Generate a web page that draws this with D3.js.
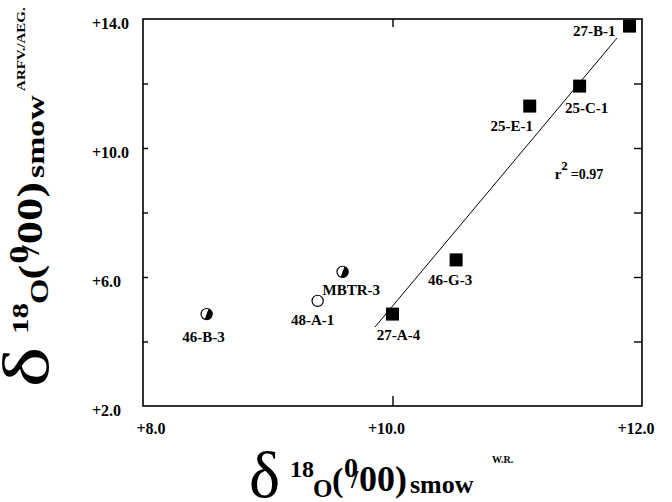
<!DOCTYPE html>
<html>
<head>
<meta charset="utf-8">
<script src="https://cdn.jsdelivr.net/npm/d3@7"></script>
</head>
<body style="margin:0">
<svg id="chart" width="672" height="502"></svg>
<script>
// Whole-rock vs. feldspar-concentrate oxygen isotope values (per mil, SMOW)
const samples   = ["27-B-1", "25-C-1", "25-E-1", "46-G-3", "27-A-4", "MBTR-3", "48-A-1", "46-B-3"];
const wholeRock = [11.90, 11.50, 11.10, 10.51, 10.00, 9.60, 9.40, 8.51];
const mineral   = [13.78, 11.92, 11.30, 6.53, 4.85, 6.16, 5.26, 4.85];
const symbols   = ["square", "square", "square", "square", "square", "half", "open", "half"];
const labelAnchor = ["end", "middle", "middle", "middle", "middle", "start", "middle", "middle"];

// regression line end points (wholeRock, mineral)
const fitX = [9.86, 11.80];
const fitY = [4.45, 13.41];
const r2 = "0.97";

const xTicks = [8, 10, 12];
const yTicks = [2, 6, 10, 14];
const yMinor = [4, 8, 12];
const tickFmt = d => "+" + d.toFixed(1);

const FONT = '"Liberation Serif"';
const serif = sel => sel.style("font-family", FONT).style("font-weight", "bold");

const svg = d3.select("#chart");
const x = d3.scaleLinear().domain([8, 12]).range([143, 642]);
const y = d3.scaleLinear().domain([2, 14]).range([406, 19]);

// plot frame
svg.append("rect")
  .attr("x", x(8)).attr("y", y(14))
  .attr("width", x(12) - x(8)).attr("height", y(2) - y(14))
  .attr("fill", "none").attr("stroke", "#000").attr("stroke-width", 1.6);

// inward ticks: left, right, top, bottom
const yAll = yMinor.concat([6, 10]);
svg.append("g").attr("transform", `translate(${x(8)},0)`)
  .call(d3.axisRight(y).tickValues(yAll).tickSize(5).tickFormat(""))
  .call(g => g.select(".domain").remove())
  .selectAll("line").attr("stroke-width", 1.4);
svg.append("g").attr("transform", `translate(${x(12)},0)`)
  .call(d3.axisLeft(y).tickValues(yAll).tickSize(8).tickFormat(""))
  .call(g => g.select(".domain").remove())
  .selectAll("line").attr("stroke-width", 1.4);
svg.append("g").attr("transform", `translate(0,${y(14)})`)
  .call(d3.axisBottom(x).tickValues([10]).tickSize(8).tickFormat(""))
  .call(g => g.select(".domain").remove())
  .selectAll("line").attr("stroke-width", 1.4);
svg.append("g").attr("transform", `translate(0,${y(2)})`)
  .call(d3.axisTop(x).tickValues([10]).tickSize(10).tickFormat(""))
  .call(g => g.select(".domain").remove())
  .selectAll("line").attr("stroke-width", 1.4);

// tick labels
svg.append("g").selectAll("text").data(yTicks).join("text")
  .attr("x", 92).attr("y", d => y(d) + 10)
  .attr("font-size", 16).attr("text-anchor", "start")
  .call(serif)
  .text(tickFmt);
svg.append("g").selectAll("text").data(xTicks).join("text")
  .attr("x", d => x(d) + (d === 8 ? 8 : -6)).attr("y", 434)
  .attr("font-size", 16).attr("text-anchor", "middle")
  .call(serif)
  .text(tickFmt);

// regression line
svg.append("line")
  .attr("x1", x(fitX[0])).attr("y1", y(fitY[0]))
  .attr("x2", x(fitX[1])).attr("y2", y(fitY[1]))
  .attr("stroke", "#000").attr("stroke-width", 1);

// markers
const pts = samples.map((s, i) => ({ s, x: wholeRock[i], y: mineral[i], sym: symbols[i], anchor: labelAnchor[i] }));
const half = d3.arc().innerRadius(0).outerRadius(5.6).startAngle(0.35).endAngle(0.35 + Math.PI);
pts.forEach(p => {
  const cx = x(p.x), cy = y(p.y);
  if (p.sym === "square") {
    svg.append("rect").attr("x", cx - 6.5).attr("y", cy - 6.5)
      .attr("width", 13).attr("height", 13).attr("fill", "#000");
  } else {
    svg.append("circle").attr("cx", cx).attr("cy", cy).attr("r", 5.6)
      .attr("fill", "#fff").attr("stroke", "#000").attr("stroke-width", 1.2);
    if (p.sym === "half") {
      svg.append("path").attr("d", half()).attr("transform", `translate(${cx},${cy})`).attr("fill", "#000");
    }
  }
});

// sample labels, placed relative to their markers
const labelPos = {
  "27-B-1": [-14, 10], "25-C-1": [7, 27], "25-E-1": [-18, 25], "46-G-3": [-6, 25],
  "27-A-4": [6, 26], "MBTR-3": [-20, 23], "48-A-1": [-5, 24], "46-B-3": [-3, 28]
};
svg.append("g").selectAll("text").data(pts).join("text")
  .attr("x", d => x(d.x) + labelPos[d.s][0])
  .attr("y", d => y(d.y) + labelPos[d.s][1])
  .attr("font-size", 15).attr("text-anchor", d => d.anchor)
  .call(serif)
  .text(d => d.s);

// r-squared annotation
const rt = svg.append("text").attr("x", x(11.30)).attr("y", y(9.04)).attr("font-size", 15).call(serif);
rt.append("tspan").text("r");
rt.append("tspan").attr("font-size", 13).attr("dy", -9).text("2");
rt.append("tspan").attr("font-size", 14).attr("dx", 3).attr("dy", 9).text("=" + r2);

// axis title: δ 18O (0/00) smow with a superscript tag; pieces laid out along the baseline
function axisTitle(g, tag, tagPos, tagSize) {
  const t = g.append("text").call(serif);
  const piece = (txt, px, py, size) => t.append("tspan").attr("x", px).attr("y", py).attr("font-size", size).text(txt);
  piece("δ", -1, 0, 66).style("font-weight", "normal");
  piece("18", 40, -20, 24);
  piece("O", 63, 0, 25);
  piece("(", 82, -6, 34);
  piece("0", 94, -20, 28);
  piece("/", 101, -9, 26);
  piece("00)", 109, -6, 36);
  piece("smow", 160, -4, 26);
  piece(tag, tagPos[0], tagPos[1], tagSize);
  return t;
}
axisTitle(svg.append("g").attr("transform", "translate(250,497)"), "W.R.", [242, -34], 10);
axisTitle(svg.append("g").attr("transform", "translate(48,386) rotate(-90) scale(1.3,1)"), "ARFV./AEG.", [227, -23], 11.5);
</script>
</body>
</html>
